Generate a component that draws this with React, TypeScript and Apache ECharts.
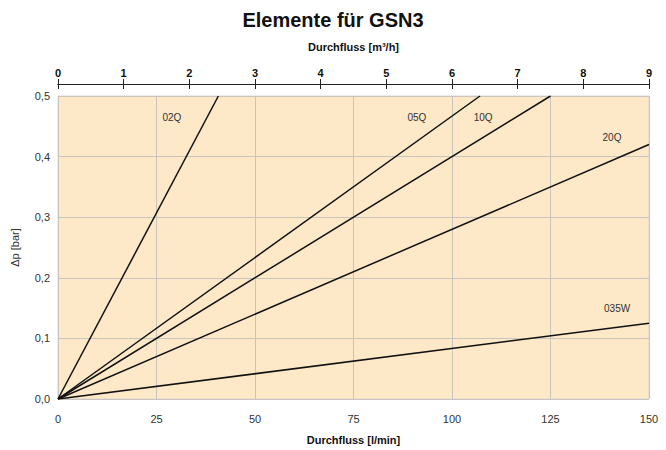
import React, { useEffect, useRef } from "react";
import * as echarts from "echarts";

const seriesNames = ["02Q", "05Q", "10Q", "20Q", "035W"];
// each line is straight through origin: [flow l/min, Δp bar] end points
const line02Q = [[0, 0], [40.7, 0.5]];
const line05Q = [[0, 0], [107.1, 0.5]];
const line10Q = [[0, 0], [125, 0.5]];
const line20Q = [[0, 0], [150, 0.42]];
const line035W = [[0, 0], [150, 0.125]];
const lineData = [line02Q, line05Q, line10Q, line20Q, line035W];
// label anchor positions in data units
const labelPos = [[28.9, 0.464], [91.1, 0.464], [107.9, 0.464], [140.6, 0.431], [141.9, 0.15]];

const xTicksLmin = [0, 25, 50, 75, 100, 125, 150];
const xTicksM3h = [0, 1, 2, 3, 4, 5, 6, 7, 8, 9];
const yTicks = [0, 0.1, 0.2, 0.3, 0.4, 0.5];

export default function App() {
  const ref = useRef<HTMLDivElement>(null);
  useEffect(() => {
    const chart = echarts.init(ref.current!, null, { renderer: "svg" });
    const font = "Liberation Sans, Arial, sans-serif";
    const topAxisBase = {
      type: "value",
      position: "top",
      min: xTicksM3h[0],
      max: xTicksM3h[xTicksM3h.length - 1],
      interval: 1,
      offset: 12,
      splitLine: { show: false },
      axisLine: { show: true, lineStyle: { color: "#222", width: 1 } },
    };
    chart.setOption({
      animation: false,
      textStyle: { fontFamily: font },
      title: {
        text: "Elemente für GSN3",
        left: "center",
        top: 5,
        textStyle: { fontSize: 20, fontWeight: "bold", color: "#111", fontFamily: font },
      },
      grid: {
        left: 58,
        right: 17,
        top: 96,
        bottom: 51,
        show: true,
        backgroundColor: "#FDE8C8",
        borderColor: "#d8d8d8",
        borderWidth: 1,
      },
      xAxis: [
        {
          type: "value",
          position: "bottom",
          min: 0,
          max: 150,
          interval: 25,
          name: "Durchfluss [l/min]",
          nameLocation: "middle",
          nameGap: 35,
          nameTextStyle: { fontWeight: "bold", fontSize: 11, color: "#111" },
          axisLine: { show: false },
          axisTick: { show: false },
          axisLabel: { fontSize: 11, color: "#333", margin: 14 },
          splitLine: { show: true, lineStyle: { color: "#c9c4bc", width: 1 } },
        },
        {
          ...topAxisBase,
          name: "Durchfluss [m³/h]",
          nameLocation: "middle",
          nameGap: 32,
          nameTextStyle: { fontWeight: "bold", fontSize: 11, color: "#111" },
          axisTick: { show: true, inside: false, length: 5, lineStyle: { color: "#222" } },
          axisLabel: { fontSize: 11, fontWeight: "bold", color: "#111", margin: 6 },
        },
        {
          ...topAxisBase,
          axisTick: { show: true, inside: true, length: 5, lineStyle: { color: "#222" } },
          axisLabel: { show: false },
        },
      ],
      yAxis: {
        type: "value",
        min: 0,
        max: 0.5,
        interval: 0.1,
        name: "Δp [bar]",
        nameLocation: "middle",
        nameGap: 38,
        nameRotate: 90,
        nameTextStyle: { fontSize: 11, color: "#333" },
        axisLine: { show: false },
        axisTick: { show: false },
        axisLabel: {
          fontSize: 11,
          color: "#333",
          margin: 8,
          formatter: (v: number) => v.toFixed(1).replace(".", ","),
        },
        splitLine: { show: true, lineStyle: { color: "#c9c4bc", width: 1 } },
      },
      series: seriesNames.map((name, i) => ({
        name,
        type: "line",
        xAxisIndex: 0,
        data: lineData[i],
        showSymbol: false,
        symbol: "none",
        lineStyle: { color: "#111", width: 1.5 },
        clip: true,
        markPoint: {
          symbol: "circle",
          symbolSize: 0,
          data: [
            {
              coord: labelPos[i],
              label: {
                show: true,
                formatter: name,
                fontSize: 10,
                color: "#333",
                position: "inside",
              },
            },
          ],
        },
      })),
    });
    return () => chart.dispose();
  }, []);
  return <div ref={ref} style={{ width: 666, height: 450, position: "absolute", left: 0, top: 0 }} />;
}
